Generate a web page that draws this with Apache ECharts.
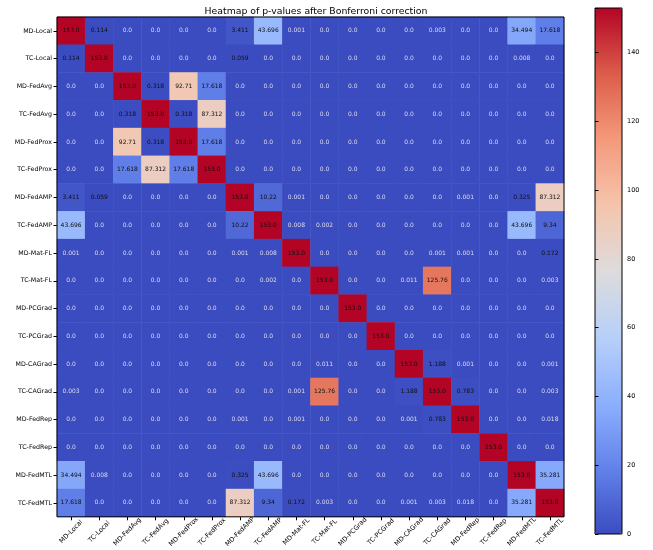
<!DOCTYPE html>
<html>
<head>
<meta charset="utf-8">
<script src="https://cdn.jsdelivr.net/npm/echarts@6/dist/echarts.min.js"></script>
<style>html,body{margin:0;padding:0;background:#fff;}#c{width:653px;height:550px;}</style>
</head>
<body>
<div id="c"></div>
<script>
const methods = ['MD-Local','TC-Local','MD-FedAvg','TC-FedAvg','MD-FedProx','TC-FedProx','MD-FedAMP','TC-FedAMP','MD-Mat-FL','TC-Mat-FL','MD-PCGrad','TC-PCGrad','MD-CAGrad','TC-CAGrad','MD-FedRep','TC-FedRep','MD-FedMTL','TC-FedMTL'];

const rowMDLocal   = [153, 0.114, 0, 0, 0, 0, 3.411, 43.696, 0.001, 0, 0, 0, 0, 0.003, 0, 0, 34.494, 17.618];
const rowTCLocal   = [0.114, 153, 0, 0, 0, 0, 0.059, 0, 0, 0, 0, 0, 0, 0, 0, 0, 0.008, 0];
const rowMDFedAvg  = [0, 0, 153, 0.318, 92.71, 17.618, 0, 0, 0, 0, 0, 0, 0, 0, 0, 0, 0, 0];
const rowTCFedAvg  = [0, 0, 0.318, 153, 0.318, 87.312, 0, 0, 0, 0, 0, 0, 0, 0, 0, 0, 0, 0];
const rowMDFedProx = [0, 0, 92.71, 0.318, 153, 17.618, 0, 0, 0, 0, 0, 0, 0, 0, 0, 0, 0, 0];
const rowTCFedProx = [0, 0, 17.618, 87.312, 17.618, 153, 0, 0, 0, 0, 0, 0, 0, 0, 0, 0, 0, 0];
const rowMDFedAMP  = [3.411, 0.059, 0, 0, 0, 0, 153, 10.22, 0.001, 0, 0, 0, 0, 0, 0.001, 0, 0.325, 87.312];
const rowTCFedAMP  = [43.696, 0, 0, 0, 0, 0, 10.22, 153, 0.008, 0.002, 0, 0, 0, 0, 0, 0, 43.696, 9.34];
const rowMDMatFL   = [0.001, 0, 0, 0, 0, 0, 0.001, 0.008, 153, 0, 0, 0, 0, 0.001, 0.001, 0, 0, 0.172];
const rowTCMatFL   = [0, 0, 0, 0, 0, 0, 0, 0.002, 0, 153, 0, 0, 0.011, 125.76, 0, 0, 0, 0.003];
const rowMDPCGrad  = [0, 0, 0, 0, 0, 0, 0, 0, 0, 0, 153, 0, 0, 0, 0, 0, 0, 0];
const rowTCPCGrad  = [0, 0, 0, 0, 0, 0, 0, 0, 0, 0, 0, 153, 0, 0, 0, 0, 0, 0];
const rowMDCAGrad  = [0, 0, 0, 0, 0, 0, 0, 0, 0, 0.011, 0, 0, 153, 1.188, 0.001, 0, 0, 0.001];
const rowTCCAGrad  = [0.003, 0, 0, 0, 0, 0, 0, 0, 0.001, 125.76, 0, 0, 1.188, 153, 0.783, 0, 0, 0.003];
const rowMDFedRep  = [0, 0, 0, 0, 0, 0, 0.001, 0, 0.001, 0, 0, 0, 0.001, 0.783, 153, 0, 0, 0.018];
const rowTCFedRep  = [0, 0, 0, 0, 0, 0, 0, 0, 0, 0, 0, 0, 0, 0, 0, 153, 0, 0];
const rowMDFedMTL  = [34.494, 0.008, 0, 0, 0, 0, 0.325, 43.696, 0, 0, 0, 0, 0, 0, 0, 0, 153, 35.281];
const rowTCFedMTL  = [17.618, 0, 0, 0, 0, 0, 87.312, 9.34, 0.172, 0.003, 0, 0, 0.001, 0.003, 0.018, 0, 35.281, 153];

const colorbarTicks = [0, 20, 40, 60, 80, 100, 120, 140];
const valueMax = 153;

const rows = [rowMDLocal,rowTCLocal,rowMDFedAvg,rowTCFedAvg,rowMDFedProx,rowTCFedProx,rowMDFedAMP,rowTCFedAMP,rowMDMatFL,rowTCMatFL,rowMDPCGrad,rowTCPCGrad,rowMDCAGrad,rowTCCAGrad,rowMDFedRep,rowTCFedRep,rowMDFedMTL,rowTCFedMTL];

const data = [];
rows.forEach((r, y) => r.forEach((v, x) => data.push([x, y, v])));

const coolwarm = ['#3b4cc0','#6282ea','#8db0fe','#b8d0f9','#dddcdc','#f5c4ac','#f49a7b','#dc5d4a','#b40426'];
const FONT = 'DejaVu Sans';

const chart = echarts.init(document.getElementById('c'), null, {renderer: 'canvas'});
chart.setOption({
  animation: false,
  backgroundColor: '#fff',
  title: {
    text: 'Heatmap of p-values after Bonferroni correction',
    left: 311, top: 2, textAlign: 'center',
    textStyle: {fontFamily: FONT, fontSize: 9.3, fontWeight: 'normal', color: '#000'}
  },
  grid: [
    {left: 57, top: 17, width: 507, height: 507, show: true, borderColor: '#000', borderWidth: 1, backgroundColor: 'transparent', z: 10},
    {left: 595, top: 8, width: 27, height: 526, show: true, borderColor: '#000', borderWidth: 1, backgroundColor: 'transparent', z: 10}
  ],
  xAxis: [
    {
      type: 'category', data: methods, gridIndex: 0, position: 'bottom',
      axisLine: {show: false},
      axisTick: {show: true, alignWithLabel: true, length: 3.5, lineStyle: {color: '#000'}},
      axisLabel: {rotate: 45, fontFamily: FONT, fontSize: 6.5, color: '#000', margin: 15, align: 'center', verticalAlign: 'middle', interval: 0},
      splitLine: {show: false}
    },
    {type: 'value', gridIndex: 1, show: false, min: 0, max: 1}
  ],
  yAxis: [
    {
      type: 'category', data: methods, gridIndex: 0, inverse: true,
      axisLine: {show: false},
      axisTick: {show: true, alignWithLabel: true, length: 3.5, lineStyle: {color: '#000'}},
      axisLabel: {fontFamily: FONT, fontSize: 6.3, color: '#000', margin: 5, interval: 0},
      splitLine: {show: false}
    },
    {
      type: 'value', gridIndex: 1, position: 'right', min: 0, max: valueMax, interval: 20,
      axisLine: {show: false},
      axisTick: {show: true, length: 3.5, lineStyle: {color: '#000'}},
      axisLabel: {fontFamily: FONT, fontSize: 6.5, color: '#000', margin: 5,
        formatter: v => colorbarTicks.indexOf(v) >= 0 ? String(v) : ''},
      splitLine: {show: false}, z: 10
    }
  ],
  visualMap: {
    type: 'continuous', min: 0, max: valueMax, seriesIndex: 0,
    left: 595, top: 8, itemWidth: 27, itemHeight: 526, padding: 0,
    calculable: false, realtime: false, showLabel: false, text: null,
    inRange: {color: coolwarm}, z: 2
  },
  series: [{
    type: 'heatmap', xAxisIndex: 0, yAxisIndex: 0, data: data,
    label: {
      show: true, fontFamily: FONT, fontSize: 6, color: '#151515',
      textBorderWidth: 0, textBorderColor: 'transparent', textShadowBlur: 0,
      formatter: p => {
        const v = p.value[2];
        const s = Number.isInteger(v) ? v.toFixed(1) : String(v);
        return v >= 0.05 ? '{d|' + s + '}' : '{l|' + s + '}';
      },
      rich: {
        d: {color: '#101010', fontFamily: FONT, fontSize: 6, textBorderWidth: 0, textBorderColor: 'transparent'},
        l: {color: '#dcdcec', fontFamily: FONT, fontSize: 6, textBorderWidth: 0, textBorderColor: 'transparent'}
      }
    },
    itemStyle: {borderWidth: 0},
    emphasis: {disabled: true}
  }]
});
</script>
</body>
</html>
